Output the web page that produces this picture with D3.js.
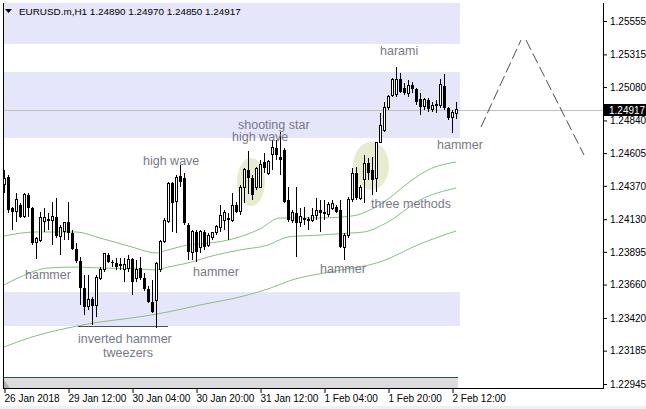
<!DOCTYPE html>
<html><head><meta charset="utf-8">
<script src="https://cdn.jsdelivr.net/npm/d3@7/dist/d3.min.js"></script>
<style>
html,body{margin:0;padding:0;background:#fff;}
svg{display:block;font-family:"Liberation Sans",Arial,sans-serif;}
</style></head>
<body><svg id="c" width="646" height="409"></svg>
<script>
// ---------- DATA ----------
const symbolTitle = "EURUSD.m,H1  1.24890 1.24970 1.24850 1.24917";
const lastPrice = 1.24917;
const opens  = [1.24383,1.24433,1.24210,1.24182,1.24232,1.24146,1.24304,1.24210,1.23959,1.23980,
1.24110,1.24131,1.24124,1.24146,1.24009,1.24045,1.24110,1.24031,1.23916,1.23829,
1.23635,1.23499,1.23556,1.23506,1.23707,1.23765,1.23873,1.23822,1.23815,1.23808,
1.23765,1.23779,1.23844,1.23700,1.23779,1.23707,1.23628,1.23535,1.23542,1.23765,
1.23966,1.24110,1.24390,1.24254,1.24441,1.24426,1.24088,1.23894,1.24038,1.23930,
1.24038,1.23944,1.23995,1.24031,1.24067,1.24124,1.24139,1.24124,1.24232,1.24182,
1.24361,1.24484,1.24426,1.24361,1.24361,1.24541,1.24462,1.24592,1.24642,1.24577,
1.24628,1.24268,1.24124,1.24175,1.24103,1.24139,1.24131,1.24124,1.24160,1.24196,
1.24182,1.24167,1.24210,1.24218,1.24196,1.23930,1.24016,1.24268,1.24462,1.24282,
1.24412,1.24534,1.24484,1.24426,1.24685,1.24771,1.24930,1.25016,1.25023,1.25138,
1.25073,1.25037,1.25095,1.25066,1.24994,1.24937,1.24987,1.24922,1.24958,1.24944,
1.25088,1.24930,1.24858,1.24890];
const highs  = [1.24484,1.24448,1.24218,1.24318,1.24246,1.24318,1.24318,1.24218,1.24002,1.24182,
1.24210,1.24175,1.24254,1.24282,1.24088,1.24110,1.24254,1.24052,1.23959,1.23858,
1.23729,1.23729,1.23571,1.23729,1.23786,1.23887,1.23887,1.23837,1.23851,1.23851,
1.23851,1.23873,1.23851,1.23837,1.23858,1.23743,1.23650,1.23693,1.23822,1.23980,
1.24139,1.24397,1.24397,1.24448,1.24520,1.24462,1.24103,1.24052,1.24052,1.24052,
1.24052,1.24031,1.24038,1.24088,1.24232,1.24196,1.24175,1.24318,1.24254,1.24376,
1.24498,1.24620,1.24448,1.24505,1.24556,1.24606,1.24556,1.24699,1.24699,1.24757,
1.24642,1.24361,1.24196,1.24361,1.24210,1.24218,1.24146,1.24210,1.24282,1.24268,
1.24268,1.24254,1.24268,1.24232,1.24268,1.24031,1.24290,1.24498,1.24505,1.24376,
1.24592,1.24570,1.24577,1.24685,1.24894,1.24973,1.25023,1.25145,1.25224,1.25181,
1.25109,1.25131,1.25116,1.25073,1.25037,1.25001,1.25001,1.24973,1.24987,1.25138,
1.25174,1.24937,1.24915,1.24970];
const lows   = [1.24318,1.24175,1.24052,1.24110,1.24139,1.24139,1.24146,1.23944,1.23844,1.23966,
1.24038,1.24052,1.23944,1.23995,1.23873,1.23980,1.23980,1.23909,1.23815,1.23513,
1.23441,1.23477,1.23369,1.23427,1.23693,1.23750,1.23815,1.23786,1.23765,1.23765,
1.23678,1.23750,1.23585,1.23678,1.23693,1.23614,1.23527,1.23455,1.23348,1.23750,
1.23959,1.24103,1.24038,1.24031,1.24361,1.24088,1.23837,1.23837,1.23822,1.23887,
1.23909,1.23930,1.23980,1.24016,1.24038,1.24052,1.23980,1.24110,1.24175,1.24160,
1.24246,1.24311,1.24268,1.24340,1.24354,1.24462,1.24448,1.24484,1.24556,1.24448,
1.24246,1.24110,1.24103,1.23858,1.24074,1.24088,1.24052,1.24110,1.24124,1.24038,
1.24124,1.24146,1.24196,1.24175,1.23923,1.23837,1.23995,1.24254,1.24268,1.24268,
1.24246,1.24412,1.24304,1.24326,1.24678,1.24757,1.24915,1.25009,1.25009,1.25037,
1.25023,1.25009,1.25037,1.24951,1.24879,1.24915,1.24901,1.24901,1.24894,1.24930,
1.24915,1.24843,1.24750,1.24850];
const closes = [1.24426,1.24196,1.24182,1.24268,1.24146,1.24304,1.24210,1.23959,1.23988,1.24139,
1.24139,1.24117,1.24146,1.24009,1.24067,1.24103,1.24031,1.23916,1.23829,1.23635,
1.23499,1.23549,1.23506,1.23714,1.23765,1.23880,1.23822,1.23815,1.23786,1.23794,
1.23801,1.23837,1.23678,1.23765,1.23707,1.23628,1.23535,1.23463,1.23815,1.23973,
1.24117,1.24390,1.24246,1.24433,1.24397,1.24103,1.23894,1.24038,1.23894,1.24038,
1.23930,1.24016,1.24031,1.24074,1.24160,1.24175,1.24124,1.24232,1.24182,1.24361,
1.24484,1.24426,1.24304,1.24498,1.24520,1.24498,1.24548,1.24642,1.24592,1.24556,
1.24254,1.24124,1.24175,1.24103,1.24146,1.24124,1.24117,1.24160,1.24196,1.24175,
1.24167,1.24239,1.24246,1.24182,1.23930,1.24016,1.24268,1.24462,1.24282,1.24361,
1.24534,1.24462,1.24412,1.24678,1.24807,1.24930,1.25009,1.25131,1.25131,1.25045,
1.25037,1.25088,1.25066,1.24973,1.24937,1.24987,1.24922,1.24951,1.24944,1.25095,
1.24930,1.24858,1.24894,1.24917];

// moving averages sampled at candle indices
const ma1Idx = [0,8,18,24,32,38,41,46,49,56,64,69,79,87,92,96,101,106,113];
const ma1Val = [1.24009,1.24038,1.24038,1.23995,1.23930,1.23887,1.23909,1.23944,1.23952,1.23980,1.24060,1.24139,1.24139,1.24153,1.24203,1.24275,1.24390,1.24484,1.24541];
const ma2Idx = [0,4,11,18,24,34,38,41,46,51,59,66,71,79,87,90,96,104,113];
const ma2Val = [1.23657,1.23714,1.23779,1.23786,1.23779,1.23772,1.23765,1.23786,1.23815,1.23858,1.23909,1.23944,1.24002,1.24016,1.24031,1.24038,1.24110,1.24268,1.24354];
const ma3Idx = [0,7,16,24,32,41,49,59,66,72,83,94,104,113];
const ma3Val = [1.23211,1.23283,1.23348,1.23391,1.23420,1.23463,1.23513,1.23571,1.23628,1.23693,1.23758,1.23822,1.23952,1.24045];

// horizontal zones [topPrice, bottomPrice]
const zoneTop    = [1.25800,1.25188,1.23607];
const zoneBottom = [1.25390,1.24714,1.23362];

// highlight ellipses: centre index, centre price, half-width (candles), half-height (price)
const ellIdx = [61.75,91.75];
const ellPrice = [1.24397,1.24513];
const ellRx = [3.5,4.5];
const ellRy = [0.00173,0.00173];

// tweezers line
const tweezIdx = [18.5,41];
const tweezPrice = 1.23362;

// projected zigzag (dashed)
const zigIdx1 = [119.25,129.25], zigPrice1 = [1.24793,1.25418];
const zigIdx2 = [130.5,145],     zigPrice2 = [1.25418,1.24592];

// pattern labels: text, start index, baseline price
const labelText  = ["harami","shooting star","high wave","high wave","hammer","hammer","hammer","hammer","three methods","inverted hammer","tweezers"];
const labelIdx   = [94,58.5,57,34.75,5.25,47.25,79,108.25,91.75,18.5,24.75];
const labelPrice = [1.25311,1.24778,1.24692,1.24520,1.23700,1.23722,1.23743,1.24635,1.24210,1.23240,1.23139];

// axes
const priceTicks = [1.25555,1.25315,1.25080,1.24840,1.24605,1.24370,1.24130,1.23895,1.23660,1.23420,1.23185,1.22945];
const timeTickIdx = [0,16,32,48,64,80,96,112];
const timeTickLabels = ["26 Jan 2018","29 Jan 12:00","30 Jan 04:00","30 Jan 20:00","31 Jan 12:00","1 Feb 04:00","1 Feb 20:00","2 Feb 12:00"];

// ---------- DRAW ----------
const svg = d3.select("#c");
const plotL = 3, plotR = 603, plotT = 3, plotB = 388;
const x = d3.scaleLinear().domain([0,149]).range([4,600]);
const y = d3.scaleLinear().domain([1.22945,1.25555]).range([384,21]);

svg.append("defs").append("clipPath").attr("id","plotclip")
  .append("rect").attr("x",plotL).attr("y",plotT).attr("width",plotR-plotL).attr("height",plotB-plotT);
const g = svg.append("g").attr("clip-path","url(#plotclip)");

// zones
g.selectAll(".zone").data(zoneTop).join("rect")
  .attr("x",plotL+1).attr("width",x(114)-plotL-1)
  .attr("y",(d)=>y(d)).attr("height",(d,i)=>y(zoneBottom[i])-y(d))
  .attr("fill","#e6e6fa").attr("shape-rendering","crispEdges");

// highlight ellipses
g.selectAll(".ell").data(ellIdx).join("ellipse")
  .attr("cx",d=>x(d)).attr("cy",(d,i)=>y(ellPrice[i]))
  .attr("rx",(d,i)=>x(ellRx[i])-x(0)).attr("ry",(d,i)=>y(0)-y(ellRy[i]))
  .attr("fill","#e7ecce");

// bottom grey strip
g.append("rect").attr("x",plotL+1).attr("y",377).attr("width",x(113)+1-plotL).attr("height",plotB-377)
  .attr("fill","#dcdcdc");
g.append("line").attr("x1",plotL+1).attr("x2",x(113)+2).attr("y1",377.5).attr("y2",377.5)
  .attr("stroke","#2f4f4f").attr("stroke-width",1.2);
g.append("path").attr("d",`M${plotL+1},${plotB} L${plotL+1},${plotB-8} L${plotL+7},${plotB} Z`).attr("fill","#b0b0b0");

// price line
g.append("line").attr("x1",plotL).attr("x2",plotR).attr("y1",Math.round(y(lastPrice))+0.5).attr("y2",Math.round(y(lastPrice))+0.5)
  .attr("stroke","#c0c0c0");

// moving averages
[[ma1Idx,ma1Val],[ma2Idx,ma2Val],[ma3Idx,ma3Val]].forEach(([ix,vv])=>{
  g.append("path").datum(ix.map((d,i)=>[d,vv[i]]))
    .attr("d",d3.line().x(d=>x(d[0])).y(d=>y(d[1])).curve(d3.curveMonotoneX))
    .attr("fill","none").attr("stroke","#88c082").attr("stroke-width",1);
});

// tweezers line
g.append("line").attr("x1",x(tweezIdx[0])).attr("x2",x(tweezIdx[1]))
  .attr("y1",Math.round(y(tweezPrice))+0.5).attr("y2",Math.round(y(tweezPrice))+0.5)
  .attr("stroke","#505050").attr("stroke-width",1);

// candles
const idx = d3.range(opens.length);
const cg = g.append("g").attr("shape-rendering","crispEdges");
cg.selectAll(".wick").data(idx).join("line")
  .attr("x1",i=>x(i)+0.5).attr("x2",i=>x(i)+0.5)
  .attr("y1",i=>y(highs[i])).attr("y2",i=>y(lows[i]))
  .attr("stroke","#000");
cg.selectAll(".body").data(idx).join("rect")
  .attr("x",i=> closes[i]>=opens[i] ? x(i)-0.5 : x(i)-1)
  .attr("width",i=> closes[i]>=opens[i] ? 2 : 3)
  .attr("y",i=> y(Math.max(opens[i],closes[i])))
  .attr("height",i=> Math.max(1,Math.abs(y(opens[i])-y(closes[i]))))
  .attr("fill",i=> closes[i]>=opens[i] ? "#fff" : "#000")
  .attr("stroke",i=> closes[i]>=opens[i] ? "#000" : "none");

// zigzag dashed
[[zigIdx1,zigPrice1],[zigIdx2,zigPrice2]].forEach(([ix,pp])=>{
  g.append("line").attr("x1",x(ix[0])).attr("y1",y(pp[0])).attr("x2",x(ix[1])).attr("y2",y(pp[1]))
   .attr("stroke","#505050").attr("stroke-width",1).attr("stroke-dasharray","11,4");
});

// labels
g.selectAll(".lbl").data(labelText).join("text")
  .attr("x",(d,i)=>x(labelIdx[i])).attr("y",(d,i)=>y(labelPrice[i]))
  .attr("font-size","12.5px").attr("fill","#78788a").text(d=>d);

// title
svg.append("path").attr("d","M5,9 L12,9 L8.5,13 Z").attr("fill","#000");
svg.append("text").attr("x",19).attr("y",15).attr("font-size","9.9px").attr("fill","#000").text(symbolTitle);

// frame
svg.append("line").attr("x1",plotL+0.5).attr("x2",plotL+0.5).attr("y1",plotT).attr("y2",plotB).attr("stroke","#000");
svg.append("line").attr("x1",plotR+0.5).attr("x2",plotR+0.5).attr("y1",plotT).attr("y2",plotB+1).attr("stroke","#000");
svg.append("line").attr("x1",plotL).attr("x2",plotR+1).attr("y1",plotB+0.5).attr("y2",plotB+0.5).attr("stroke","#000");

// right axis
const ra = svg.append("g").attr("transform",`translate(${plotR+1},0)`)
  .call(d3.axisRight(y).tickValues(priceTicks).tickFormat(d3.format(".5f")).tickSize(3).tickPadding(3));
ra.select(".domain").remove();
ra.selectAll("text").attr("font-size","10px").attr("font-family","Liberation Sans, Arial, sans-serif").attr("fill","#000");
ra.selectAll("line").attr("stroke","#000");

// current price box
const yp = Math.round(y(lastPrice));
svg.append("rect").attr("x",plotR+1).attr("y",yp-6).attr("width",42).attr("height",12).attr("fill","#000");
svg.append("text").attr("x",plotR+6).attr("y",yp+4).attr("font-size","10px").attr("fill","#fff").text(d3.format(".5f")(lastPrice));

// bottom axis
const ba = svg.append("g").attr("transform",`translate(0,${plotB+1})`)
  .call(d3.axisBottom(x).tickValues(timeTickIdx).tickFormat((d,i)=>timeTickLabels[i]).tickSize(4).tickPadding(2));
ba.select(".domain").remove();
ba.selectAll("text").attr("text-anchor","start").attr("dx","0").attr("font-size","10px")
  .attr("font-family","Liberation Sans, Arial, sans-serif").attr("fill","#000");
ba.selectAll("line").attr("stroke","#000").attr("transform","translate(0.5,0)");

// window bottom strip
svg.append("rect").attr("x",0).attr("y",406).attr("width",646).attr("height",3).attr("fill","#f0f0f0");
</script></body></html>
